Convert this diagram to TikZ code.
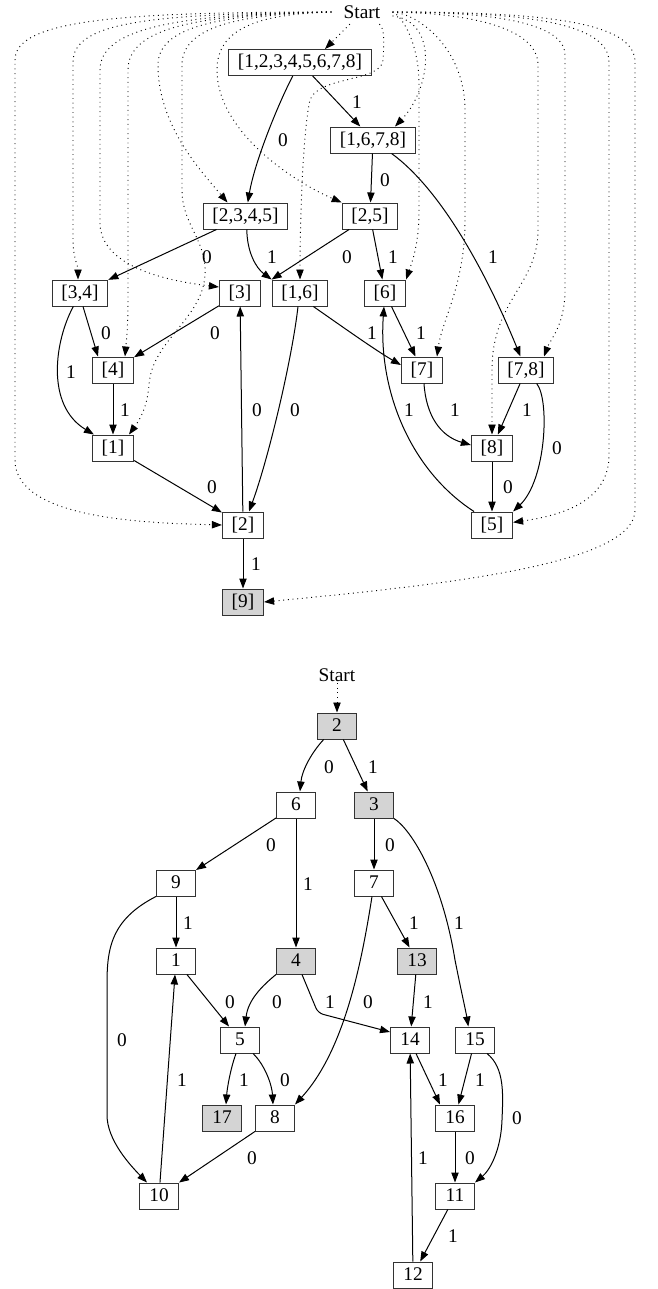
\documentclass[tikz,border=0pt]{standalone}
\usepackage{fontspec}
\setmainfont{Liberation Serif}
\usetikzlibrary{arrows.meta,calc}
\newcommand\tsz{\fontsize{14.5}{17}\selectfont}
\begin{document}
\begin{tikzpicture}[x=0.75pt,y=-0.75pt,
  box/.style={draw=black!80,line width=0.75pt,font=\tsz,inner xsep=7pt,inner ysep=0pt,minimum height=19.5pt,text height=10.5pt,text depth=2.5pt},
  sbox/.style={box,minimum width=29.25pt,inner xsep=2pt},
  gbox/.style={fill=black!17},
  sedge/.style={line width=0.75pt,-{Triangle[length=7.5pt,width=5.5pt]}},
  dedge/.style={sedge,line width=0.7pt,dash pattern=on 0.7pt off 2.8pt},
  lb/.style={font=\tsz,inner sep=0pt},
  st/.style={font=\tsz,inner sep=1pt}]
\useasboundingbox (0,0) rectangle (657,1289);

% ---------- top graph nodes ----------
\node[st,inner xsep=9pt,inner ysep=4pt] (s1) at (362,12) {Start};
\node[box] (a) at (300,62.5) {[1,2,3,4,5,6,7,8]};
\node[box] (b) at (373,140) {[1,6,7,8]};
\node[box] (c) at (245.5,216) {[2,3,4,5]};
\node[box] (d) at (370,216) {[2,5]};
\node[box] (e) at (80,293) {[3,4]};
\node[box] (f) at (240,293) {[3]};
\node[box] (g) at (300,293) {[1,6]};
\node[box] (h) at (385,293) {[6]};
\node[box] (i) at (113,370) {[4]};
\node[box] (j) at (422,370) {[7]};
\node[box] (k) at (526,370) {[7,8]};
\node[box] (l) at (113,448) {[1]};
\node[box] (m) at (492,448) {[8]};
\node[box] (n) at (243,525) {[2]};
\node[box] (o) at (492,525) {[5]};
\node[box,gbox] (p) at (243,602) {[9]};

% ---------- top dotted edges ----------
\draw[dedge] (s1.west) .. controls (120,12) and (15,20) .. (15,60) -- (15,460) .. controls (15,520) and (150,523) .. (n.west);
\draw[dedge] (s1.west) .. controls (150,14) and (73,22) .. (73,62) -- (73,240) .. controls (73,258) and (78,265) .. ([xshift=-1.5pt]e.north);
\draw[dedge] (s1.west) .. controls (170,14) and (100,30) .. (100,70) -- (100,225) .. controls (103,265) and (160,280) .. ([yshift=4.5pt]f.west);
\draw[dedge] (s1.west) .. controls (190,14) and (128,30) .. (128,70) -- (128,300) .. controls (128,330) and (126,345) .. ([xshift=9pt]i.north);
\draw[dedge] (s1.west) .. controls (215,14) and (158,28) .. (158,65) .. controls (158,125) and (200,170) .. ([xshift=-13.5pt]c.north);
\draw[dedge] (s1.west) .. controls (235,14) and (182,28) .. (182,65) -- (182,190) .. controls (182,225) and (207,240) .. (205,275) .. controls (202,320) and (152,340) .. (149,385) .. controls (147,410) and (138,422) .. ([xshift=12pt]l.north);
\draw[dedge] (s1.west) .. controls (255,14) and (217,30) .. (217,70) .. controls (217,130) and (290,180) .. (d.north west);
\draw[dedge] (s1) -- ([xshift=18.75pt]a.north);
\draw[dedge] (s1) .. controls (385,28) and (384,45) .. (383,60) .. controls (382,82) and (318,76) .. (310,100) .. controls (303,130) and (300,220) .. (g.north);
\draw[dedge] (s1) .. controls (440,22) and (430,90) .. ([xshift=16.5pt]b.north);
\draw[dedge] (s1.east) .. controls (400,14) and (419,40) .. (419,85) -- (419,210) .. controls (419,245) and (412,262) .. (h.north east);
\draw[dedge] (s1.east) .. controls (420,14) and (465,50) .. (465,110) -- (465,220) .. controls (465,285) and (442,320) .. ([xshift=11.25pt]j.north);
\draw[dedge] (s1.east) .. controls (460,13) and (538,25) .. (538,65) -- (538,230) .. controls (538,285) and (492,300) .. (492,370) -- (m.north);
\draw[dedge] (s1.east) .. controls (480,12) and (565,20) .. (565,55) -- (565,290) .. controls (565,325) and (550,340) .. ([xshift=13.5pt]k.north);
\draw[dedge] (s1.east) .. controls (520,12) and (609,22) .. (609,62) -- (609,455) .. controls (609,500) and (565,515) .. ([yshift=2pt]o.east);
\draw[dedge] (s1.east) .. controls (545,12) and (635,22) .. (635,62) -- (635,510) .. controls (635,565) and (440,585) .. (p.east);

% ---------- top solid edges ----------
\draw[sedge] (a) .. controls (280,100) and (255,160) .. (c) node[lb] at (283,140) {0};
\draw[sedge] (a) -- (b) node[lb] at (357,102) {1};
\draw[sedge] (b) -- (d) node[lb] at (385,180) {0};
\draw[sedge] (b) .. controls (439,188) and (484,267) .. (k) node[lb] at (493,257) {1};
\draw[sedge] (c) -- (e) node[lb] at (207,257) {0};
\draw[sedge] ([xshift=1pt]c.south) .. controls (247,252) and (256,268) .. (g.north west) node[lb] at (272,257) {1};
\draw[sedge] (d) -- (g.north west) node[lb] at (347,257) {0};
\draw[sedge] (d) -- (h) node[lb] at (393,257) {1};
\draw[sedge] ([xshift=2.25pt]e.south) -- ([xshift=-11.25pt]i.north) node[lb] at (106,333) {0};
\draw[sedge] ([xshift=-5pt]e.south) .. controls (55,340) and (45,405) .. ([xshift=1.5pt]l.north west) node[lb] at (71,372) {1};
\draw[sedge] (f) -- (i) node[lb] at (215,333) {0};
\draw[sedge] (i) -- (l) node[lb] at (125,410) {1};
\draw[sedge] (l) -- (n) node[lb] at (212,487) {0};
\draw[sedge] (n) -- (f) node[lb] at (257,410) {0};
\draw[sedge] ([xshift=-1.5pt]g.south) .. controls (292,360) and (268,460) .. ([xshift=4.5pt]n.north) node[lb] at (295,410) {0};
\draw[sedge] ([xshift=10pt]g.south) .. controls (340,325) and (375,350) .. ([yshift=3.75pt]j.west) node[lb] at (372,333) {1};
\draw[sedge] (h) -- (j) node[lb] at (421,333) {1};
\draw[sedge] ([xshift=-13.5pt]o.north) .. controls (410,470) and (378,390) .. ([xshift=-0.75pt]h.south) node[lb] at (409,410) {1};
\draw[sedge] ([xshift=1.5pt]j.south) .. controls (426,415) and (440,436) .. ([yshift=2.25pt]m.west) node[lb] at (455,410) {1};
\draw[sedge] (k) -- (m) node[lb] at (527,410) {1};
\draw[sedge] ([xshift=8pt]k.south) .. controls (550,400) and (546,480) .. (o.north east) node[lb] at (557,448) {0};
\draw[sedge] (m) -- (o) node[lb] at (508,487) {0};
\draw[sedge] (n) -- (p) node[lb] at (256,564) {1};

% ---------- bottom graph nodes ----------
\node[st] (s2) at (337,675) {Start};
\node[sbox,gbox] (B2) at (337,726) {2};
\node[sbox] (B6) at (296,805) {6};
\node[sbox,gbox] (B3) at (374,805) {3};
\node[sbox] (B9) at (176,883) {9};
\node[sbox] (B7) at (374,883) {7};
\node[sbox] (B1) at (176,961) {1};
\node[sbox,gbox] (B4) at (296,961) {4};
\node[sbox,gbox] (B13) at (417,961) {13};
\node[sbox] (B5) at (240,1040) {5};
\node[sbox] (B14) at (410,1040) {14};
\node[sbox] (B15) at (475,1040) {15};
\node[sbox,gbox] (B17) at (222,1118) {17};
\node[sbox] (B8) at (275,1118) {8};
\node[sbox] (B16) at (455,1118) {16};
\node[sbox] (B10) at (159,1196) {10};
\node[sbox] (B11) at (455,1196) {11};
\node[sbox] (B12) at (413,1275) {12};

% ---------- bottom edges ----------
\draw[dedge] (s2) -- (B2);
\draw[sedge] ([xshift=-10pt]B2.south) .. controls (312,752) and (302,770) .. ([xshift=3pt]B6.north) node[lb] at (329,767) {0};
\draw[sedge] (B2) -- (B3) node[lb] at (373,767) {1};
\draw[sedge] (B6) -- (B9) node[lb] at (271,845) {0};
\draw[sedge] (B6) -- (B4) node[lb] at (308,884) {1};
\draw[sedge] (B3) -- (B7) node[lb] at (390,845) {0};
\draw[sedge] (B3.south east) .. controls (412,830) and (442,880) .. (455,960) .. controls (462,995) and (466,1012) .. ([xshift=-5pt]B15.north) node[lb] at (459,923) {1};
\draw[sedge] (B9) -- (B1) node[lb] at (188,923) {1};
\draw[sedge] (B9.south west) .. controls (110,920) and (107,950) .. (107,985) -- (107,1115) .. controls (107,1140) and (130,1165) .. ([xshift=-9pt]B10.north) node[lb] at (122,1040) {0};
\draw[sedge] (B7) -- (B13) node[lb] at (414,923) {1};
\draw[sedge] ([xshift=-1.5pt]B7.south) .. controls (362,960) and (345,1050) .. (B8.north east) node[lb] at (368,1002) {0};
\draw[sedge] (B1) -- (B5) node[lb] at (230,1002) {0};
\draw[sedge] (B4.south west) .. controls (262,986) and (248,1000) .. ([xshift=3.75pt]B5.north) node[lb] at (277,1002) {0};
\draw[sedge,rounded corners=4pt] ([xshift=4.5pt]B4.south) -- (318,1013) -- ([yshift=6pt]B14.west) node[lb] at (330,1002) {1};
\draw[sedge] (B13) -- (B14) node[lb] at (428,1002) {1};
\draw[sedge] ([xshift=-3pt]B5.south) .. controls (230,1070) and (227,1090) .. ([xshift=3pt]B17.north) node[lb] at (244,1080) {1};
\draw[sedge] ([xshift=9.75pt]B5.south) .. controls (265,1065) and (272,1085) .. ([xshift=-1.5pt]B8.north) node[lb] at (285,1080) {0};
\draw[sedge] ([xshift=4.5pt]B14.south) -- ([xshift=-11.25pt]B16.north) node[lb] at (443,1080) {1};
\draw[sedge] (B15) -- (B16) node[lb] at (480,1080) {1};
\draw[sedge] ([xshift=9pt]B15.south) .. controls (505,1068) and (503,1095) .. (502,1120) .. controls (501,1150) and (490,1170) .. (B11.north east) node[lb] at (517,1118) {0};
\draw[sedge] (B16) -- (B11) node[lb] at (470,1158) {0};
\draw[sedge] (B8) -- (B10) node[lb] at (252,1158) {0};
\draw[sedge] (B10) -- (B1) node[lb] at (182,1080) {1};
\draw[sedge] (B11) -- (B12) node[lb] at (453,1236) {1};
\draw[sedge] (B12) -- (B14) node[lb] at (423,1158) {1};
\end{tikzpicture}
\end{document}
